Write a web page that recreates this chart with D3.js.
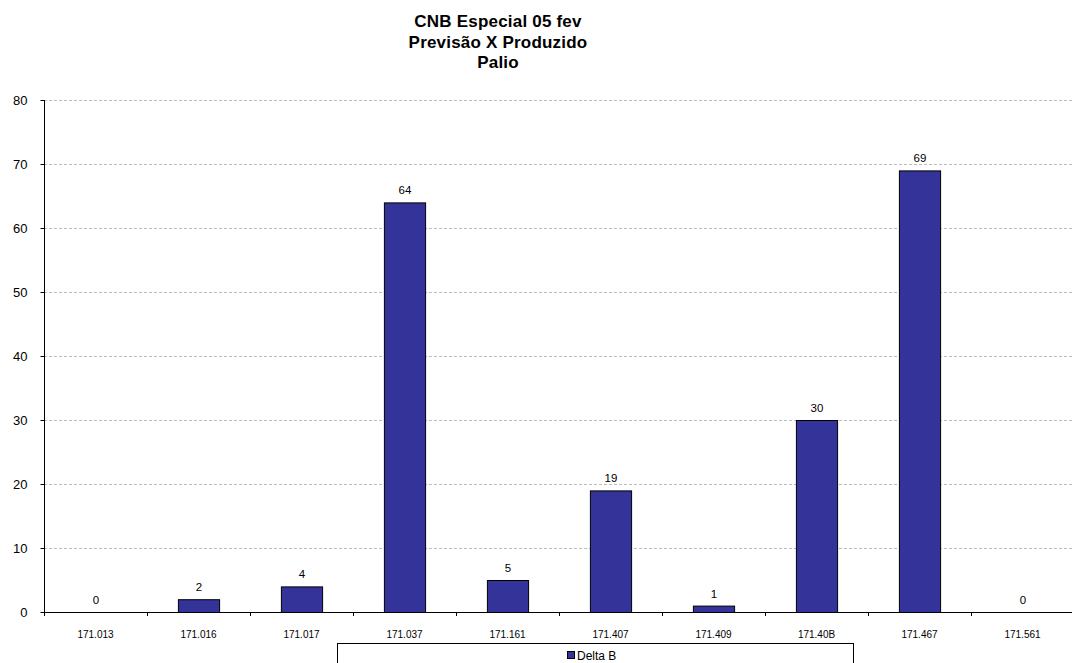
<!DOCTYPE html>
<html><head><meta charset="utf-8">
<script src="https://cdn.jsdelivr.net/npm/d3@7"></script>
<style>body{margin:0;background:#fff}svg{display:block}</style>
</head><body>
<svg id="c" width="1072" height="663"></svg>
<script>
const categories = ["171.013","171.016","171.017","171.037","171.161","171.407","171.409","171.40B","171.467","171.561"];
const deltaB = [0,2,4,64,5,19,1,30,69,0];
const yTicks = [0,10,20,30,40,50,60,70,80];
const titleLines = ["CNB Especial 05 fev","Previsão X Produzido","Palio"];
const seriesName = "Delta B";

const svg = d3.select("#c");
const font = "Arial, 'Liberation Sans', sans-serif";
const L = 44, R = 1074, T = 100, B = 612;
const x = d3.scaleBand().domain(categories).range([L, R]);
const y = d3.scaleLinear().domain([0, 80]).range([B, T]);

// title
svg.append("g").selectAll("text").data(titleLines).join("text")
  .attr("x", 498).attr("y", (d,i)=>27 + i*20.5)
  .attr("text-anchor","middle").attr("font-family",font)
  .attr("font-weight","bold").attr("font-size",17).attr("letter-spacing",0.2).text(d=>d);

// gridlines
svg.append("g").selectAll("line").data(yTicks.filter(d=>d>0)).join("line")
  .attr("x1", L).attr("x2", 1072).attr("y1", d=>y(d)+0.5).attr("y2", d=>y(d)+0.5)
  .attr("stroke","#bdbdbd").attr("stroke-dasharray","3,2").attr("stroke-width",1);

// y axis
const ya = svg.append("g").attr("transform",`translate(${L+0.5},0)`)
  .call(d3.axisLeft(y).tickValues(yTicks).tickSize(4).tickPadding(13));
ya.select(".domain").attr("stroke","#000").attr("d",`M0,${T}V${B}`);
ya.selectAll(".tick line").attr("stroke","#000");
ya.selectAll("text").attr("font-family",font).attr("font-size",13).attr("fill","#000");

// bars
const bw = x.bandwidth()*0.4;
svg.append("g").selectAll("rect").data(deltaB).join("rect")
  .attr("x",(d,i)=>x(categories[i]) + (x.bandwidth()-bw)/2 + 0.5)
  .attr("y",d=>y(d)+0.5).attr("width",bw).attr("height",d=>B-y(d))
  .attr("fill","#333399").attr("stroke","#000").attr("stroke-width",1)
  .style("display",d=>d>0?null:"none");

// value labels
svg.append("g").selectAll("text").data(deltaB).join("text")
  .attr("x",(d,i)=>x(categories[i]) + x.bandwidth()/2 + 0.5)
  .attr("y",d=>y(d)-8).attr("text-anchor","middle").attr("fill","#000")
  .attr("font-family",font).attr("font-size",11.5).text(d=>d);

// legend
const lg = svg.append("g");
lg.append("rect").attr("x",337.5).attr("y",643.5).attr("width",516).attr("height",40)
  .attr("fill","#fff").attr("stroke","#000");
lg.append("rect").attr("x",567.5).attr("y",651.5).attr("width",7).attr("height",7)
  .attr("fill","#333399").attr("stroke","#000");
lg.append("text").attr("x",577).attr("y",659.5).attr("font-family",font).attr("fill","#000")
  .attr("font-size",12).text(seriesName);

// x axis
const xa = svg.append("g").attr("transform",`translate(0,${B+0.5})`)
  .call(d3.axisBottom(x).tickSize(0).tickPadding(18));
xa.select(".domain").attr("stroke","#000").attr("d",`M${L},0H1072`);
xa.selectAll("text").attr("font-family",font).attr("font-size",10).attr("fill","#000");
svg.append("g").selectAll("line").data(categories).join("line")
  .attr("x1",d=>Math.round(x(d))+0.5).attr("x2",d=>Math.round(x(d))+0.5)
  .attr("y1",B).attr("y2",B+4).attr("stroke","#000");
</script>
</body></html>
